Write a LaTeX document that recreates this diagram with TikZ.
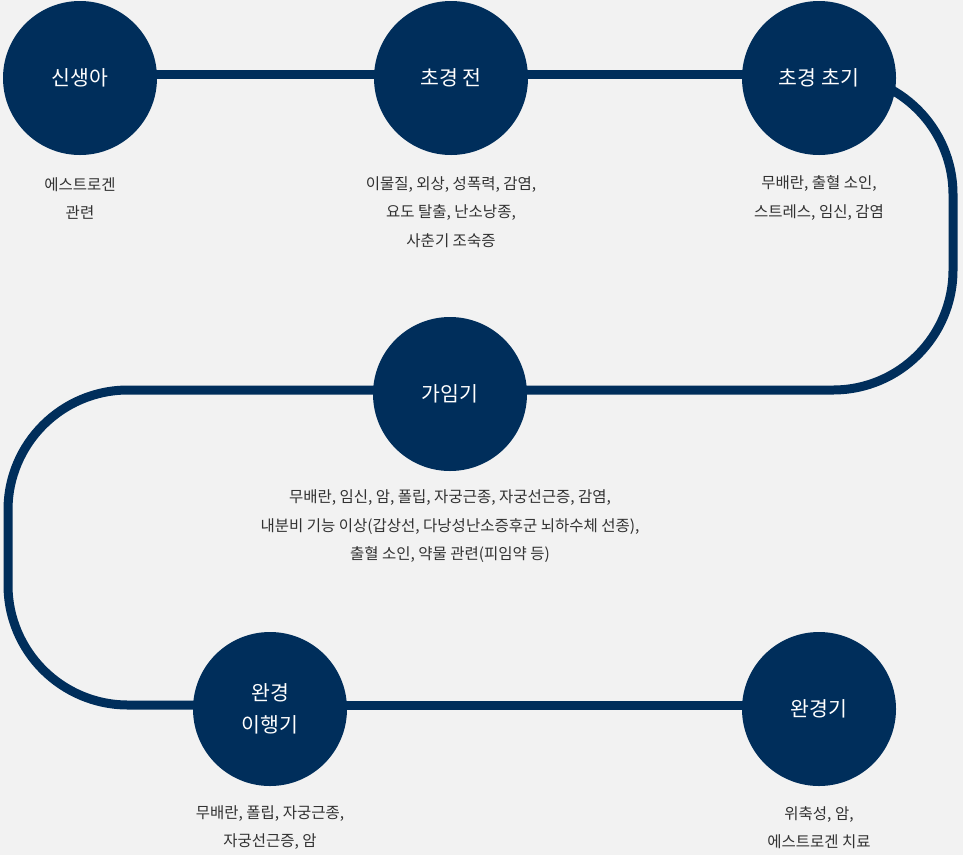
\documentclass[tikz,border=0pt]{standalone}
\usepackage{fontspec}
\setmainfont{Noto Sans CJK KR}
\definecolor{navy}{RGB}{0,46,91}
\definecolor{bgc}{RGB}{242,242,242}
\definecolor{txt}{RGB}{50,50,50}
\pgfdeclarelayer{bg}
\pgfdeclarelayer{lines}
\pgfsetlayers{bg,lines,main}
\tikzset{
  stage/.style={circle, fill=navy, minimum size=154pt, inner sep=0pt, text=white, align=center, font=\fontsize{20.5}{32}\selectfont},
  desc/.style={text=txt, align=center, inner sep=0pt, font=\fontsize{15.5}{28.5}\selectfont},
  conn/.style={draw=navy, line width=9pt, rounded corners=120pt},
}
\begin{document}
\begin{tikzpicture}[x=1pt,y=1pt]
\useasboundingbox (0,0) rectangle (963,-855);
% stages
\node[stage] (n1) at (80,-78) {신생아};
\node[stage] (n2) at (451,-78) {초경 전};
\node[stage] (n3) at (819,-78) {초경 초기};
\node[stage] (n4) at (450,-394) {가임기};
\node[stage] (n5) at (270,-709) {완경\\이행기};
\node[stage] (n6) at (819,-709) {완경기};
% descriptions
\node[desc] (d1) at (80,-198.5) {에스트로겐\\관련};
\node[desc] (d2) at (451,-212) {이물질, 외상, 성폭력, 감염,\\요도 탈출, 난소낭종,\\사춘기 조숙증};
\node[desc] (d3) at (819,-198) {무배란, 출혈 소인,\\스트레스, 임신, 감염};
\node[desc] (d4) at (450,-526.5) {무배란, 임신, 암, 폴립, 자궁근종, 자궁선근증, 감염,\\내분비 기능 이상(갑상선, 다낭성난소증후군 뇌하수체 선종),\\출혈 소인, 약물 관련(피임약 등)};
\node[desc] (d5) at (270,-827.5) {무배란, 폴립, 자궁근종,\\자궁선근증, 암};
\node[desc] (d6) at (819,-827.5) {위축성, 암,\\에스트로겐 치료};
% corner coordinates
\coordinate (c1) at (953,-74.5);
\coordinate (c2) at (953,-390);
\coordinate (c3) at (8,-390);
\coordinate (c4) at (8,-705);
\begin{pgfonlayer}{bg}
\fill[bgc] (0,0) rectangle (963,-855);
\end{pgfonlayer}
\begin{pgfonlayer}{lines}
\draw[conn] ([yshift=3.5pt]n1.center) -- ([yshift=3.5pt]n2.center);
\draw[conn] ([yshift=3.5pt]n2.center) -- ([yshift=3.5pt]n3.center);
\draw[conn] ([yshift=3.5pt]n3.center) -- (c1) -- (c2) -- ([yshift=4pt]n4.center);
\draw[conn] ([yshift=4pt]n4.center) -- (c3) -- (c4) -- ([yshift=4pt]n5.center);
\draw[conn] ([yshift=4pt]n5.center) -- ([yshift=4pt]n6.center);
\end{pgfonlayer}
\end{tikzpicture}
\end{document}
